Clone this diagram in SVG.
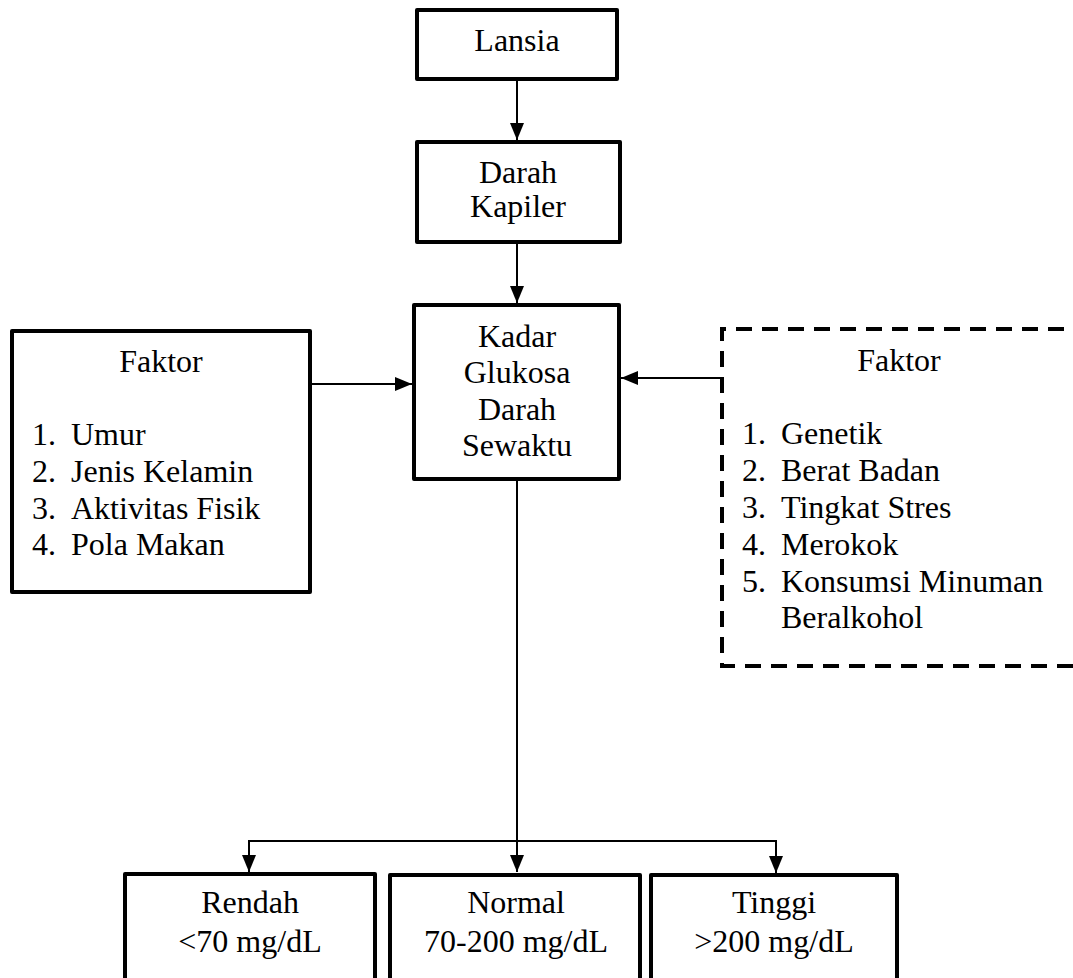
<svg xmlns="http://www.w3.org/2000/svg" width="1073" height="978" viewBox="0 0 1073 978">
<style>
.box{fill:#fff;stroke:#000;stroke-width:4;stroke-linejoin:round}
.dash{fill:#fff;stroke:#000;stroke-width:4;stroke-dasharray:16 10}
.t{font-family:'Liberation Serif','Times New Roman',Times,serif;font-size:32px;fill:#000}
.c{text-anchor:middle}
.ln{fill:none;stroke:#000;stroke-width:2}
</style>
<defs>
<marker id="ah" viewBox="0 0 17 14" refX="17" refY="7" markerWidth="17" markerHeight="14" markerUnits="userSpaceOnUse" orient="auto">
<path d="M0,0 L17,7 L0,14 Z" fill="#000"/>
</marker>
</defs>
<rect width="1073" height="978" fill="#fff"/>
<g id="connectors">
<line class="ln" x1="517" y1="79" x2="517" y2="140" marker-end="url(#ah)"/>
<line class="ln" x1="517" y1="242" x2="517" y2="303" marker-end="url(#ah)"/>
<line class="ln" x1="310" y1="384" x2="412" y2="384" marker-end="url(#ah)"/>
<line class="ln" x1="722" y1="378" x2="621" y2="378" marker-end="url(#ah)"/>
<line class="ln" x1="517" y1="479" x2="517" y2="872" marker-end="url(#ah)"/>
<polyline class="ln" points="249,860 249,841 776,841 776,860"/>
<line class="ln" x1="249" y1="850" x2="249" y2="872" marker-end="url(#ah)"/>
<line class="ln" x1="776" y1="850" x2="776" y2="873" marker-end="url(#ah)"/>
</g>
<g id="lansia">
<rect class="box" x="417" y="10" width="200" height="69"/>
<text class="t c" font-family="Liberation Serif, serif" x="517" y="51">Lansia</text>
</g>
<g id="darah-kapiler">
<rect class="box" x="417" y="142" width="203" height="100"/>
<text class="t c" x="518" y="183">Darah</text>
<text class="t c" x="518" y="217">Kapiler</text>
</g>
<g id="kadar">
<rect class="box" x="414" y="305" width="205" height="174"/>
<text class="t c" x="517" y="347">Kadar</text>
<text class="t c" x="517" y="383">Glukosa</text>
<text class="t c" x="517" y="420">Darah</text>
<text class="t c" x="517" y="456">Sewaktu</text>
</g>
<g id="faktor-kiri">
<rect class="box" x="12" y="331" width="298" height="261"/>
<text class="t c" x="161" y="372">Faktor</text>
<text class="t" x="32" y="445">1.</text><text class="t" x="71" y="445">Umur</text>
<text class="t" x="32" y="482">2.</text><text class="t" x="71" y="482">Jenis Kelamin</text>
<text class="t" x="32" y="519">3.</text><text class="t" x="71" y="519">Aktivitas Fisik</text>
<text class="t" x="32" y="555">4.</text><text class="t" x="71" y="555">Pola Makan</text>
</g>
<g id="faktor-kanan">
<path class="dash" d="M1090,329 L722,329 L722,666 L1090,666"/>
<text class="t c" x="899" y="371">Faktor</text>
<text class="t" x="742" y="444">1.</text><text class="t" x="781" y="444">Genetik</text>
<text class="t" x="742" y="481">2.</text><text class="t" x="781" y="481">Berat Badan</text>
<text class="t" x="742" y="518">3.</text><text class="t" x="781" y="518">Tingkat Stres</text>
<text class="t" x="742" y="555">4.</text><text class="t" x="781" y="555">Merokok</text>
<text class="t" x="742" y="592">5.</text><text class="t" x="781" y="592">Konsumsi Minuman</text>
<text class="t" x="781" y="628">Beralkohol</text>
</g>
<g id="rendah">
<rect class="box" x="125" y="874" width="250" height="130"/>
<text class="t c" x="250" y="913">Rendah</text>
<text class="t c" x="250" y="952">&lt;70 mg/dL</text>
</g>
<g id="normal">
<rect class="box" x="390" y="875" width="250" height="130"/>
<text class="t c" x="516" y="913">Normal</text>
<text class="t c" x="516" y="952">70-200 mg/dL</text>
</g>
<g id="tinggi">
<rect class="box" x="651" y="875" width="246" height="130"/>
<text class="t c" x="774" y="913">Tinggi</text>
<text class="t c" x="774" y="952">&gt;200 mg/dL</text>
</g>
</svg>
